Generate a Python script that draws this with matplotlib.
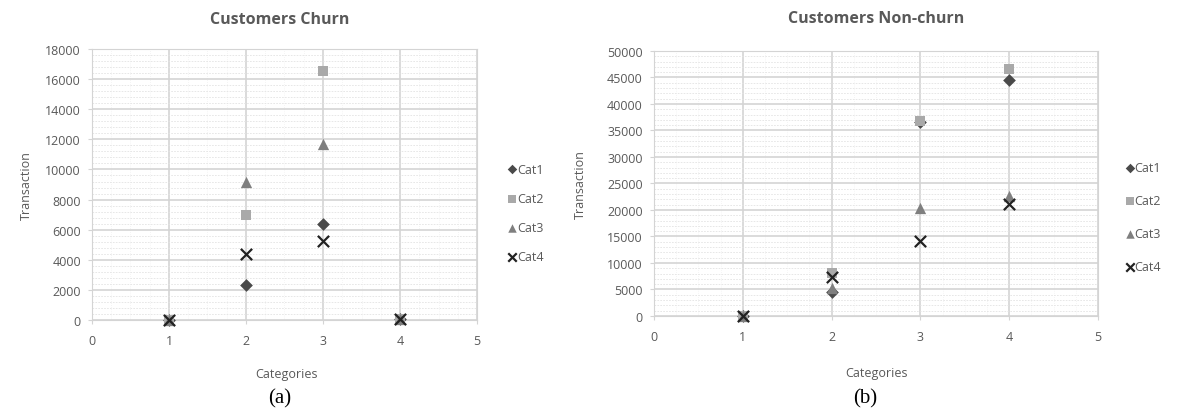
import numpy as np
import matplotlib
matplotlib.use("Agg")
import matplotlib.pyplot as plt
from matplotlib.ticker import MultipleLocator

categories = [1, 2, 3, 4]
series_names = ["Cat1", "Cat2", "Cat3", "Cat4"]

# Customers Churn
churn_cat1 = [0, 2300, 6400, 50]
churn_cat2 = [0, 7000, 16550, 50]
churn_cat3 = [0, 9150, 11700, 100]
churn_cat4 = [0, 4380, 5280, 80]

# Customers Non-churn
nonchurn_cat1 = [0, 4500, 36600, 44600]
nonchurn_cat2 = [0, 8200, 36800, 46600]
nonchurn_cat3 = [0, 5300, 20300, 22700]
nonchurn_cat4 = [0, 7400, 14100, 21200]

markers = ["D", "s", "^", "x"]
colors = ["#4a4a4a", "#a9a9a9", "#7f7f7f", "#222222"]
sizes = [42, 50, 66, 66]

plt.rcParams['font.family'] = ['Open Sans', 'DejaVu Sans']
text_gray = "#595959"
grid_gray = "#d4d4d4"


def draw_panel(ax, data, title, ymax, ystep, yminor, title_x, title_y):
    for vals, name, m, c, s in zip(data, series_names, markers, colors, sizes):
        lw = 1.6 if m == "x" else 0
        ax.scatter(categories, vals, marker=m, color=c, s=s, linewidths=lw,
                   label=name, zorder=3, clip_on=False)
    ax.set_xlim(0, 5)
    ax.set_ylim(0, ymax)
    ax.xaxis.set_major_locator(MultipleLocator(1))
    ax.yaxis.set_major_locator(MultipleLocator(ystep))
    ax.yaxis.set_minor_locator(MultipleLocator(yminor))
    ax.xaxis.set_minor_locator(MultipleLocator(0.25))
    ax.grid(True, which="major", color=grid_gray, linewidth=1.2, zorder=0)
    ax.grid(True, which="minor", axis="y", color="#e3e3e3", linewidth=0.6,
            linestyle=(0, (2, 1.5)), zorder=0)
    ax.grid(True, which="minor", axis="x", color="#ececec", linewidth=0.5,
            linestyle=(0, (1, 2)), zorder=0)
    ax.set_axisbelow(True)
    for sp in ax.spines.values():
        sp.set_color(grid_gray)
        sp.set_linewidth(0.8)
    ax.tick_params(which="major", colors=grid_gray, labelcolor=text_gray,
                   labelsize=9, length=3, width=0.8)
    ax.tick_params(axis="x", which="major", pad=7)
    ax.tick_params(axis="y", which="major", pad=5)
    ax.tick_params(which="minor", length=0)
    ax.set_xlabel("Categories", color=text_gray, fontsize=9)
    ax.set_ylabel("Transaction", color=text_gray, fontsize=9)
    ax.text(title_x, title_y, title, transform=ax.transAxes, ha="center",
            va="center", fontsize=11.5, fontweight="bold", color=text_gray)


fig = plt.figure(figsize=(11.79, 4.14), dpi=100)
ax1 = fig.add_axes([0.0780, 0.2246, 0.3266, 0.6546])
ax2 = fig.add_axes([0.5547, 0.2343, 0.3766, 0.6401])

draw_panel(ax1, [churn_cat1, churn_cat2, churn_cat3, churn_cat4],
           "Customers Churn", 18000, 2000, 400, 0.488, 1.112)
draw_panel(ax2, [nonchurn_cat1, nonchurn_cat2, nonchurn_cat3, nonchurn_cat4],
           "Customers Non-churn", 50000, 5000, 1000, 0.5, 1.125)

ax1.yaxis.set_label_coords(-0.153, 0.5)
ax1.xaxis.set_label_coords(0.504, -0.173)
ax2.yaxis.set_label_coords(-0.151, 0.5)
ax2.xaxis.set_label_coords(0.502, -0.189)

leg_kw = dict(frameon=False, fontsize=9, handlelength=0.5, handletextpad=0.1,
              borderaxespad=0, borderpad=0, labelcolor=text_gray)
ax1.legend(loc="center left", bbox_to_anchor=(0.432, 0.483),
           bbox_transform=fig.transFigure, labelspacing=1.3,
           markerscale=0.75, **leg_kw)
ax2.legend(loc="center left", bbox_to_anchor=(0.956, 0.473),
           bbox_transform=fig.transFigure, labelspacing=1.6,
           markerscale=0.75, **leg_kw)

fig.text(280 / 1179, 1 - 399 / 414, "(a)", ha="center", va="center",
         fontsize=15, family="Liberation Serif")
fig.text(865 / 1179, 1 - 399 / 414, "(b)", ha="center", va="center",
         fontsize=15, family="Liberation Serif")

fig.savefig("out.png", dpi=100)
